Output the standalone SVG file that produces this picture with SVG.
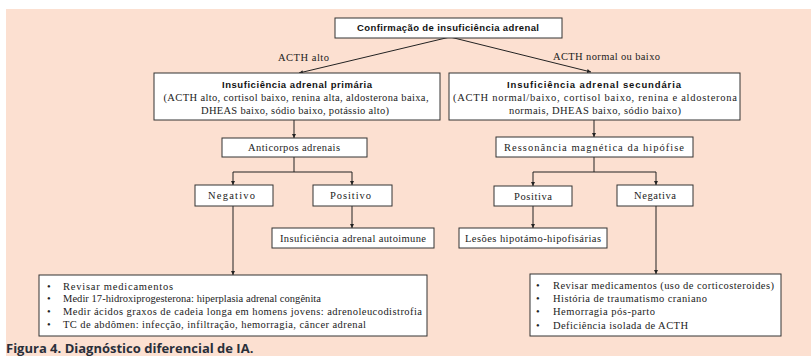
<svg xmlns="http://www.w3.org/2000/svg" width="811" height="356" viewBox="0 0 811 356">
<defs>
<marker id="arr" viewBox="0 0 8 8" refX="8" refY="4" markerWidth="4" markerHeight="4" orient="auto" markerUnits="userSpaceOnUse">
<path d="M0,0 L8,4 L0,8 z" fill="#222"/>
</marker>
<style>
.box{fill:#fff;stroke:#333;stroke-width:1}
.t{font-family:"Liberation Serif","Times New Roman",serif;font-size:10.5px;fill:#222}
.c{text-anchor:middle}
.h{font-family:"Liberation Sans",Arial,sans-serif;font-size:9.5px;font-weight:bold;fill:#111;text-anchor:middle}
.ln{fill:none;stroke:#222;stroke-width:1}
.cap{font-family:"Open Sans","Noto Sans",sans-serif;font-size:13px;font-weight:bold;fill:#2a2f3a}
</style>
</defs>
<rect x="6" y="9" width="805" height="347" fill="#fce0d1"/>
<g id="connectors">
<path class="ln" d="M450,37 L299,73" marker-end="url(#arr)"/>
<path class="ln" d="M450,37 L591,72" marker-end="url(#arr)"/>
<path class="ln" d="M294,120 L294,138" marker-end="url(#arr)"/>
<path class="ln" d="M294,157 L294,172 M233,172 L352,172"/>
<path class="ln" d="M233,172 L233,185" marker-end="url(#arr)"/>
<path class="ln" d="M352,172 L352,185" marker-end="url(#arr)"/>
<path class="ln" d="M233,206 L233,275" marker-end="url(#arr)"/>
<path class="ln" d="M352,206 L352,228" marker-end="url(#arr)"/>
<path class="ln" d="M594,120 L594,137" marker-end="url(#arr)"/>
<path class="ln" d="M594,157 L594,172 M533,172 L656,172"/>
<path class="ln" d="M533,172 L533,186" marker-end="url(#arr)"/>
<path class="ln" d="M656,172 L656,185" marker-end="url(#arr)"/>
<path class="ln" d="M533,206 L533,228" marker-end="url(#arr)"/>
<path class="ln" d="M656,206 L656,274" marker-end="url(#arr)" stroke="#5a4a44"/>
<text class="t" x="278" y="61" textLength="51" lengthAdjust="spacing">ACTH alto</text>
<text class="t" x="553" y="60" textLength="107" lengthAdjust="spacing">ACTH normal ou baixo</text>
</g>
<g id="top">
<rect class="box" x="335" y="18" width="227" height="20"/>
<text class="h" x="448" y="31" textLength="182" lengthAdjust="spacing">Confirmação de insuficiência adrenal</text>
</g>
<g id="primaria">
<rect class="box" x="154" y="73" width="286" height="47"/>
<text class="h" x="297" y="88" textLength="150" lengthAdjust="spacing">Insuficiência adrenal primária</text>
<text class="t c" x="296" y="101" textLength="265" lengthAdjust="spacing">(ACTH alto, cortisol baixo, renina alta, aldosterona baixa,</text>
<text class="t c" x="295" y="113.5" textLength="188" lengthAdjust="spacing">DHEAS baixo, sódio baixo, potássio alto)</text>
</g>
<g id="secundaria">
<rect class="box" x="449" y="73" width="291" height="47"/>
<text class="h" x="594" y="88" textLength="174" lengthAdjust="spacing">Insuficiência adrenal secundária</text>
<text class="t c" x="595" y="101" textLength="284" lengthAdjust="spacing">(ACTH normal/baixo, cortisol baixo, renina e aldosterona</text>
<text class="t c" x="595" y="113.5" textLength="172" lengthAdjust="spacing">normais, DHEAS baixo, sódio baixo)</text>
</g>
<g id="anticorpos">
<rect class="box" x="222" y="138" width="145" height="19"/>
<text class="t c" x="294" y="151" textLength="92" lengthAdjust="spacing">Anticorpos adrenais</text>
</g>
<g id="ressonancia">
<rect class="box" x="496" y="137" width="197" height="20"/>
<text class="t c" x="594" y="150.5" textLength="180" lengthAdjust="spacing">Ressonância magnética da hipófise</text>
</g>
<g id="negativo">
<rect class="box" x="195" y="185" width="78" height="21"/>
<text class="t c" x="231.5" y="199" textLength="47" lengthAdjust="spacing">Negativo</text>
</g>
<g id="positivo">
<rect class="box" x="313" y="185" width="79" height="21"/>
<text class="t c" x="350.5" y="199" textLength="41" lengthAdjust="spacing">Positivo</text>
</g>
<g id="positiva">
<rect class="box" x="494" y="186" width="78" height="20"/>
<text class="t c" x="533" y="199.5" textLength="38" lengthAdjust="spacing">Positiva</text>
</g>
<g id="negativa">
<rect class="box" x="617" y="185" width="76" height="21"/>
<text class="t c" x="655" y="199" textLength="42" lengthAdjust="spacing">Negativa</text>
</g>
<g id="autoimune">
<rect class="box" x="272" y="228" width="162" height="20"/>
<text class="t c" x="353" y="241.5" textLength="146" lengthAdjust="spacing">Insuficiência adrenal autoimune</text>
</g>
<g id="lesoes">
<rect class="box" x="459" y="228" width="148" height="20"/>
<text class="t c" x="533" y="241.5" textLength="136" lengthAdjust="spacing">Lesões hipotámo-hipofisárias</text>
</g>
<g id="lista-primaria">
<rect class="box" x="39" y="275" width="388" height="61"/>
<text class="t" x="47" y="289.5">•</text>
<text class="t" x="63" y="289.5" textLength="110" lengthAdjust="spacing">Revisar medicamentos</text>
<text class="t" x="47" y="302">•</text>
<text class="t" x="63" y="302" textLength="258" lengthAdjust="spacing">Medir 17-hidroxiprogesterona: hiperplasia adrenal congênita</text>
<text class="t" x="47" y="315">•</text>
<text class="t" x="63" y="315" textLength="359" lengthAdjust="spacing">Medir ácidos graxos de cadeia longa em homens jovens: adrenoleucodistrofia</text>
<text class="t" x="47" y="328">•</text>
<text class="t" x="63" y="328" textLength="303" lengthAdjust="spacing">TC de abdômen: infecção, infiltração, hemorragia, câncer adrenal</text>
</g>
<g id="lista-secundaria">
<rect class="box" x="530" y="274" width="251" height="62"/>
<text class="t" x="536" y="288.5">•</text>
<text class="t" x="553" y="288.5" textLength="221" lengthAdjust="spacing">Revisar medicamentos (uso de corticosteroides)</text>
<text class="t" x="536" y="301.5">•</text>
<text class="t" x="553" y="301.5" textLength="154" lengthAdjust="spacing">História de traumatismo craniano</text>
<text class="t" x="536" y="315">•</text>
<text class="t" x="553" y="315" textLength="102" lengthAdjust="spacing">Hemorragia pós-parto</text>
<text class="t" x="536" y="329">•</text>
<text class="t" x="553" y="329" textLength="135" lengthAdjust="spacing">Deficiência isolada de ACTH</text>
</g>
<text class="cap" x="6" y="353">Figura 4. Diagnóstico diferencial de IA.</text>
</svg>
